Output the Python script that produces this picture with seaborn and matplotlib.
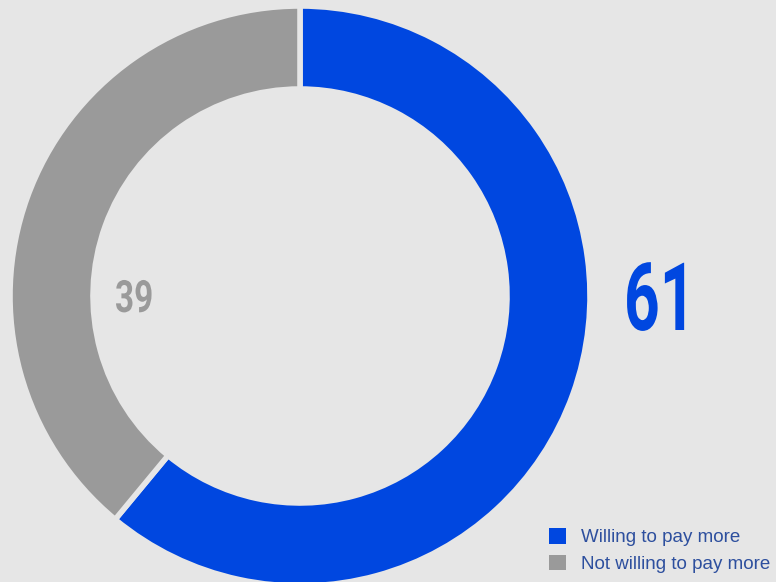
import matplotlib
matplotlib.use("Agg")
import matplotlib.pyplot as plt
import seaborn as sns
from matplotlib.patheffects import AbstractPathEffect
from matplotlib.transforms import Affine2D

# Data
labels = ["Willing to pay more", "Not willing to pay more"]
values = [61, 39]
colors = ["#0047e0", "#9a9a9a"]

BG = "#e6e6e6"


# squeeze glyphs horizontally to mimic a condensed typeface
class Condense(AbstractPathEffect):
    def __init__(self, sx=0.7):
        super().__init__()
        self.sx = sx

    def draw_path(self, renderer, gc, tpath, affine, rgbFace=None):
        renderer.draw_path(gc, tpath, Affine2D().scale(self.sx, 1) + affine, rgbFace)


sns.set_style("white", {"axes.facecolor": BG, "figure.facecolor": BG})
plt.rcParams["font.family"] = ["Roboto", "DejaVu Sans"]

fig = plt.figure(figsize=(7.76, 5.82), dpi=100)
ax = fig.add_axes([0, 0, 1, 1])

# pixel-like coordinates: x 0..776, y 0..582 (bottom up)
cx, cy, r = 300, 286, 290
wedges, _ = ax.pie(values, colors=colors, startangle=90, counterclock=False,
                   center=(cx, cy), radius=r,
                   wedgeprops=dict(width=83, edgecolor=BG, linewidth=4))
ax.set_xlim(0, 776)
ax.set_ylim(0, 582)
ax.set_aspect("equal")
ax.axis("off")

ax.text(624, 278, str(values[0]), fontsize=68, fontweight="bold", color=colors[0],
        ha="left", va="center", path_effects=[Condense(0.66)])
ax.text(115, 282, str(values[1]), fontsize=32, fontweight="bold", color=colors[1],
        ha="left", va="center", path_effects=[Condense(0.75)])

leg = ax.legend(wedges, labels, loc="lower right", bbox_to_anchor=(787, -8),
                bbox_transform=ax.transData, frameon=False,
                handlelength=0.9, handleheight=0.9, handletextpad=0.8,
                labelspacing=0.45, labelcolor="#2d4f9e",
                prop={"family": ["Liberation Sans", "DejaVu Sans"], "size": 13.5})
for h in leg.legend_handles:
    h.set_edgecolor("none")

fig.savefig("out.png", dpi=100, facecolor=BG)
